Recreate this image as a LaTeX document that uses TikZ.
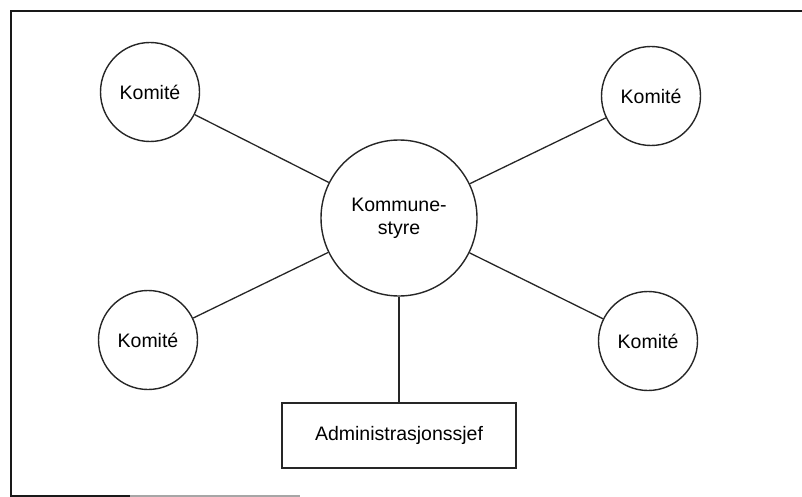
\documentclass[tikz,border=0pt]{standalone}
\usepackage{fontspec}
\setmainfont{Liberation Sans}
\begin{document}
\begin{tikzpicture}[x=1pt,y=-1pt,
  ink/.style={draw=black!85},
  committee/.style={ink, circle, line width=1.4pt, minimum size=99pt, inner sep=0pt,
    font=\fontsize{19.5}{23}\selectfont},
  council/.style={ink, circle, line width=1.4pt, minimum size=156pt, inner sep=0pt,
    align=center, font=\fontsize{19.5}{23}\selectfont},
  chief/.style={ink, rectangle, line width=1.4pt, minimum width=234pt, minimum height=65pt,
    inner sep=0pt, font=\fontsize{19.5}{23}\selectfont},
  link/.style={draw=black!85, line width=1.3pt},
  frame/.style={draw=black!90, line width=2pt}]
  \useasboundingbox (0,0) rectangle (802,497);

  % open frame: left, top and the start of the bottom edge
  \draw[frame] (802,11) -- (11,11) -- (11,496) -- (130,496);
  \draw[draw=black!35, line width=1.2pt] (130,496) -- (300,496);

  % central council and its committees
  \node[council] (ks) at (399,218) {Kommune-\\styre};
  \node[committee] (k1) at (150,92) {Komité};
  \node[committee] (k2) at (651,96) {Komité};
  \node[committee] (k3) at (148,340) {Komité};
  \node[committee] (k4) at (648,341) {Komité};
  \node[chief] (adm) at (399,435.5) {Administrasjonssjef};

  % connections
  \draw[link] (ks) -- (k1);
  \draw[link] (ks) -- (k2);
  \draw[link] (ks) -- (k3);
  \draw[link] (ks) -- (k4);
  \draw[link] (ks) -- (adm);
\end{tikzpicture}
\end{document}
